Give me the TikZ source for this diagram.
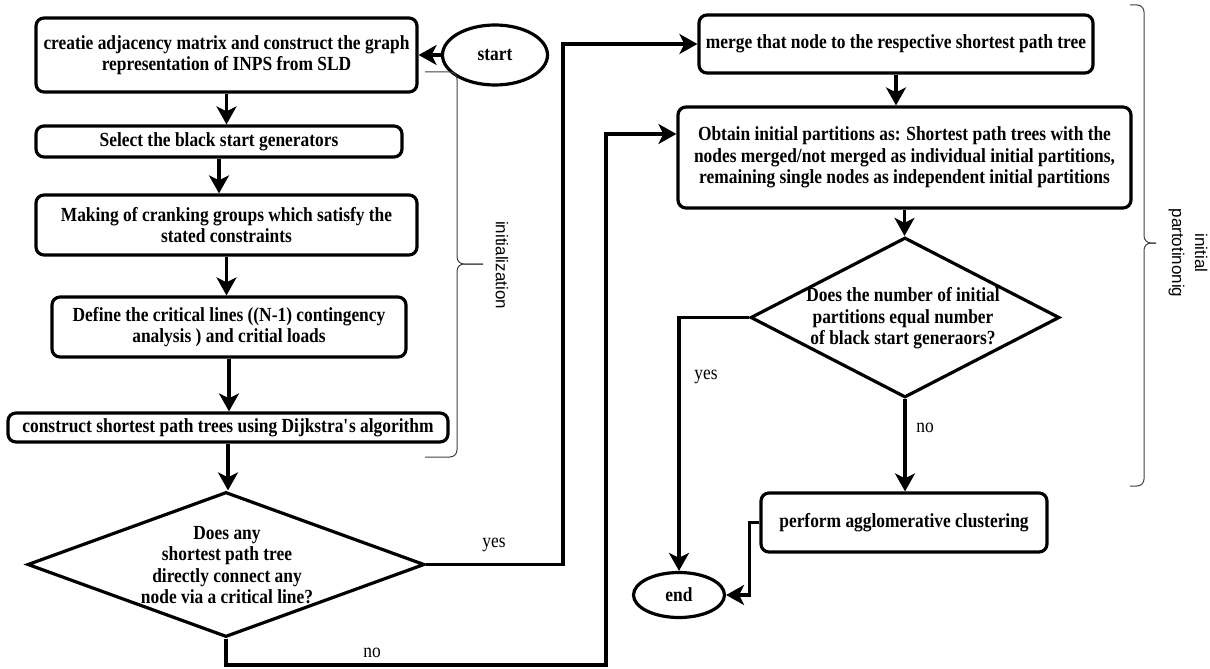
\documentclass[tikz,border=0pt]{standalone}
\usepackage{fontspec}
\setmainfont{Liberation Serif}[FakeStretch=0.87]
\newfontfamily\labelsans{Liberation Sans}
\usetikzlibrary{arrows.meta,shapes.geometric}
\begin{document}
\begin{tikzpicture}[x=1pt,y=-1pt,
  txt/.style={align=center, inner sep=0pt, font=\bfseries\fontsize{20}{21.5}\selectfont},
  box/.style={txt, draw, line width=3.2pt, rounded corners=8pt},
  oval/.style={txt, draw, ellipse, line width=3.2pt},
  dec/.style={draw, diamond, line width=3.2pt, inner sep=0pt},
  arr/.style={line width=3.2pt, -{Stealth[length=18pt,width=20pt,inset=5pt]}},
  brace/.style={draw=black!75, line width=1pt, rounded corners=7pt},
  lbl/.style={inner sep=0pt, font=\fontsize{20}{21.5}\selectfont},
  side/.style={inner sep=0pt, align=center, rotate=-90, font=\labelsans\fontsize{17}{23}\selectfont}
]
\useasboundingbox (0,0) rectangle (1210,669);

% left column
\node[box, minimum width=381, minimum height=74] (b1) at (226.5,55) {creatie adjacency matrix and construct the graph\\representation of INPS from SLD};
\node[oval, minimum width=105, minimum height=60] (st) at (495,55) {start};
\node[box, minimum width=366, minimum height=31] (b2) at (219,141.5) {Select the black start generators};
\node[box, minimum width=381, minimum height=60] (b3) at (226.5,225) {Making of cranking groups which satisfy the\\stated constraints};
\node[box, minimum width=354, minimum height=60] (b4) at (229,327) {Define the critical lines ((N-1) contingency\\analysis ) and critial loads};
\node[box, minimum width=440, minimum height=29] (b5) at (228,427.5) {construct shortest path trees using Dijkstra\textquotesingle s algorithm};
\node[dec, minimum width=397, minimum height=145] (d1) at (226,564.5) {};
\node[txt] (d1t) at (227,565) {Does any\\shortest path tree\\directly connect any\\node via a critical line?};

% right column
\node[box, minimum width=394, minimum height=58] (m) at (896,44) {merge that node to the respective shortest path tree};
\node[box, minimum width=453, minimum height=101] (ob) at (904.5,157.5) {Obtain initial partitions as: Shortest path trees with the\\nodes merged/not merged as individual initial partitions,\\remaining single nodes as independent initial partitions};
\node[dec, minimum width=309, minimum height=160] (d2) at (905,317.5) {};
\node[txt] (d2t) at (903,318.5) {Does the number of initial\\partitions equal number\\of black start generaors?};
\node[box, minimum width=286, minimum height=59] (ag) at (904,522.5) {perform agglomerative clustering};
\node[oval, minimum width=91, minimum height=45] (en) at (679,595) {end};

% helper coordinates
\coordinate (yx) at (563,0);
\coordinate (nx) at (606,0);
\coordinate (ny) at (0,665);
\path (ob.west) ++(0,-23.5) coordinate (obin);

% connectors
\draw[arr] (st.west) -- (b1.east);
\draw[arr] (b1.south) -- (b1.south |- b2.north);
\draw[arr] (b2.south) -- (b2.south |- b3.north);
\draw[arr] (b3.south) -- (b3.south |- b4.north);
\draw[arr] (b4.south) -- (b4.south |- b5.north);
\draw[arr] (b5.south) -- (b5.south |- d1.north);
\draw[arr] (d1.east) -- (d1.east -| yx) |- (m.west);
\draw[arr] (d1.south) -- (d1.south |- ny) -- (nx |- ny) |- (obin);
\draw[arr] (m.south) -- (m.south |- ob.north);
\draw[arr] (ob.south) -- (ob.south |- d2.north);
\draw[arr] (d2.west) -| (en.north);
\draw[arr] (d2.south) -- (d2.south |- ag.north);
\draw[arr] (ag.west) -- ++(-10,0) |- (en.east);

% labels
\node[lbl] (l1) at (494,545) {yes};
\node[lbl] (l2) at (372,653) {no};
\node[lbl] (l3) at (706,377) {yes};
\node[lbl] (l4) at (925,428) {no};

% braces
\draw[brace] (425,72) -- (457,72) -- (457,264) -- (483,264);
\draw[brace] (425,457) -- (457,457) -- (457,264) -- (483,264);
\node[side] (s1) at (502,265) {initialization};
\draw[brace] (1130,5) -- (1144,5) -- (1144,243) -- (1156,243);
\draw[brace] (1130,486) -- (1144,486) -- (1144,243) -- (1156,243);
\node[side] (s2) at (1188,253) {initial\\partotinonig};
\end{tikzpicture}
\end{document}
